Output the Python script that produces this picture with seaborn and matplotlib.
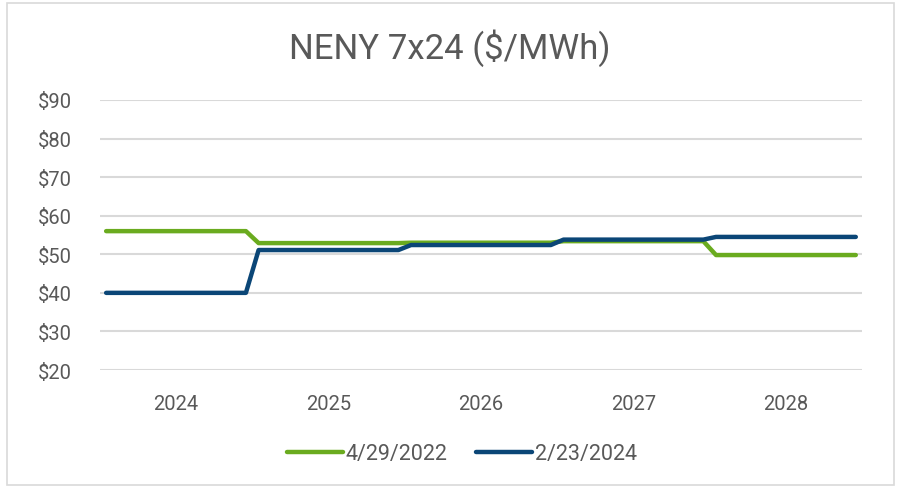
import matplotlib.pyplot as plt
import seaborn as sns
import pandas as pd
from matplotlib.patches import Rectangle

years = ['2024', '2025', '2026', '2027', '2028']
series_names = ['4/29/2022', '2/23/2024']

# monthly forward prices, one row per year
curve_2022 = [
    56, 56, 56, 56, 56, 56, 56, 56, 56, 56, 56, 56,
    52.9, 52.9, 52.9, 52.9, 52.9, 52.9, 52.9, 52.9, 52.9, 52.9, 52.9, 52.9,
    53, 53, 53, 53, 53, 53, 53, 53, 53, 53, 53, 53,
    53.4, 53.4, 53.4, 53.4, 53.4, 53.4, 53.4, 53.4, 53.4, 53.4, 53.4, 53.4,
    49.8, 49.8, 49.8, 49.8, 49.8, 49.8, 49.8, 49.8, 49.8, 49.8, 49.8, 49.8,
]
curve_2024 = [
    40, 40, 40, 40, 40, 40, 40, 40, 40, 40, 40, 40,
    51.1, 51.1, 51.1, 51.1, 51.1, 51.1, 51.1, 51.1, 51.1, 51.1, 51.1, 51.1,
    52.4, 52.4, 52.4, 52.4, 52.4, 52.4, 52.4, 52.4, 52.4, 52.4, 52.4, 52.4,
    53.8, 53.8, 53.8, 53.8, 53.8, 53.8, 53.8, 53.8, 53.8, 53.8, 53.8, 53.8,
    54.5, 54.5, 54.5, 54.5, 54.5, 54.5, 54.5, 54.5, 54.5, 54.5, 54.5, 54.5,
]

colors = {'4/29/2022': '#6aab1f', '2/23/2024': '#0b4677'}
text_color = '#595959'

df = pd.DataFrame({
    'month': [i + 0.5 for i in range(len(curve_2022))] * 2,
    'price': curve_2022 + curve_2024,
    'series': [series_names[0]] * len(curve_2022) + [series_names[1]] * len(curve_2024),
})

sns.set_style('white')
plt.rcParams['font.family'] = ['Roboto', 'DejaVu Sans']

fig = plt.figure(figsize=(8.99, 4.89), dpi=100)
ax = fig.add_axes([0.111, 0.2413, 0.848, 0.5522])

sns.lineplot(data=df, x='month', y='price', hue='series', palette=colors,
             linewidth=3.2, ax=ax)

ax.set_xlim(0, 60)
ax.set_ylim(20, 90)
ax.set_yticks(range(20, 100, 10))
ax.set_yticklabels([f'${v}' for v in range(20, 100, 10)])
ax.set_xticks([6 + 12 * i for i in range(len(years))])
ax.set_xticklabels(years)
ax.set_xlabel('')
ax.set_ylabel('')
ax.grid(axis='y', color='#d9d9d9', linewidth=1.5)
ax.set_axisbelow(True)
for s in ax.spines.values():
    s.set_visible(False)
ax.tick_params(axis='both', length=0, labelsize=14.5, labelcolor=text_color)
ax.tick_params(axis='x', pad=17)
ax.tick_params(axis='y', pad=20)

ax.legend(loc='center', bbox_to_anchor=(0.475, -0.31), ncol=2, frameon=False,
          fontsize=15.5, labelcolor=text_color, handlelength=2.6,
          handletextpad=0.15, columnspacing=1.3)

fig.text(0.5, 0.902, 'NENY 7x24 ($/MWh)', ha='center', va='center',
         fontsize=25, color=text_color)

fig.patches.append(Rectangle((0.008, 0.006), 0.986, 0.986, transform=fig.transFigure,
                             fill=False, edgecolor='#d9d9d9', linewidth=1.2))

fig.savefig('out.png', dpi=100)
